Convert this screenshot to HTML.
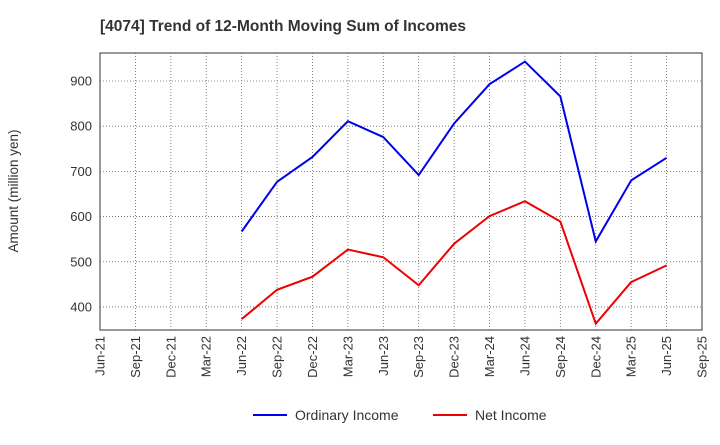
<!DOCTYPE html>
<html><head><meta charset="utf-8"><style>
body{margin:0;background:#fff;font-family:"Liberation Sans",sans-serif;}
</style></head><body>
<svg id="chart" width="720" height="440" xmlns="http://www.w3.org/2000/svg">
<text x="100" y="31" font-size="15.5" font-weight="bold" fill="#333">[4074]  Trend of 12-Month Moving Sum of Incomes</text>
<text transform="translate(18,191) rotate(-90)" text-anchor="middle" font-size="13.5" fill="#333">Amount (million yen)</text>
<rect x="100" y="53" width="602" height="277" fill="#fff" stroke="#333" stroke-width="1"/>
<g id="grid"></g><g id="axes"></g><g id="series"></g>
<g>
<line x1="253" y1="415" x2="287" y2="415" stroke="#0000ee" stroke-width="2"/>
<text x="295" y="420" font-size="14" fill="#333">Ordinary Income</text>
<line x1="433" y1="415" x2="467" y2="415" stroke="#ee0000" stroke-width="2"/>
<text x="475" y="420" font-size="14" fill="#333">Net Income</text>
</g>
</svg>
<script>
const categories=["Jun-21","Sep-21","Dec-21","Mar-22","Jun-22","Sep-22","Dec-22","Mar-23","Jun-23","Sep-23","Dec-23","Mar-24","Jun-24","Sep-24","Dec-24","Mar-25","Jun-25","Sep-25"];
const ordinaryIncome=[null,null,null,null,567,677,732,811,776,692,806,893,943,866,545,680,730,null];
const netIncome=[null,null,null,null,373,438,467,527,510,448,540,601,634,589,363,455,492,null];
const yTicks=[400,500,600,700,800,900];
const NS="http://www.w3.org/2000/svg";
const x0=100,x1=702,y0=330,y1=53,yMin=349,yMax=962;
const xs=i=>x0+i*(x1-x0)/(categories.length-1);
const ys=v=>y0-(v-yMin)/(yMax-yMin)*(y0-y1);
function mk(tag,attrs,parent){const e=document.createElementNS(NS,tag);for(const k in attrs)e.setAttribute(k,attrs[k]);document.getElementById(parent).appendChild(e);return e;}
categories.forEach((c,i)=>{
 const x=xs(i);
 if(i>0&&i<categories.length-1){const g=mk("line",{x1:x,x2:x,y1:y1,y2:y0,stroke:"#666","stroke-width":0.8,"stroke-dasharray":"1,2"},"grid");
 
 }
 const t=mk("text",{transform:`translate(${x+4.5},${y0+6}) rotate(-90)`,"text-anchor":"end","font-size":13,fill:"#333"},"axes");
 t.textContent=c;
 
 
});
yTicks.forEach(v=>{
 const y=ys(v);
 const g=mk("line",{x1:x0,x2:x1,y1:y,y2:y,stroke:"#666","stroke-width":0.8,"stroke-dasharray":"1,2"},"grid");
 
 
 const t=mk("text",{x:x0-8,y:y+4.5,"text-anchor":"end","font-size":13,fill:"#333"},"axes");
 t.textContent=v;
 
 
});
function line(data,color,name){
 const pts=[];data.forEach((v,i)=>{if(v!=null)pts.push(xs(i)+","+ys(v));});
 const p=mk("polyline",{points:pts.join(" "),fill:"none",stroke:color,"stroke-width":2},"series");
 
 
}
line(ordinaryIncome,"#0000ee","ordinary-income-line");
line(netIncome,"#ee0000","net-income-line");
</script>
</body></html>
